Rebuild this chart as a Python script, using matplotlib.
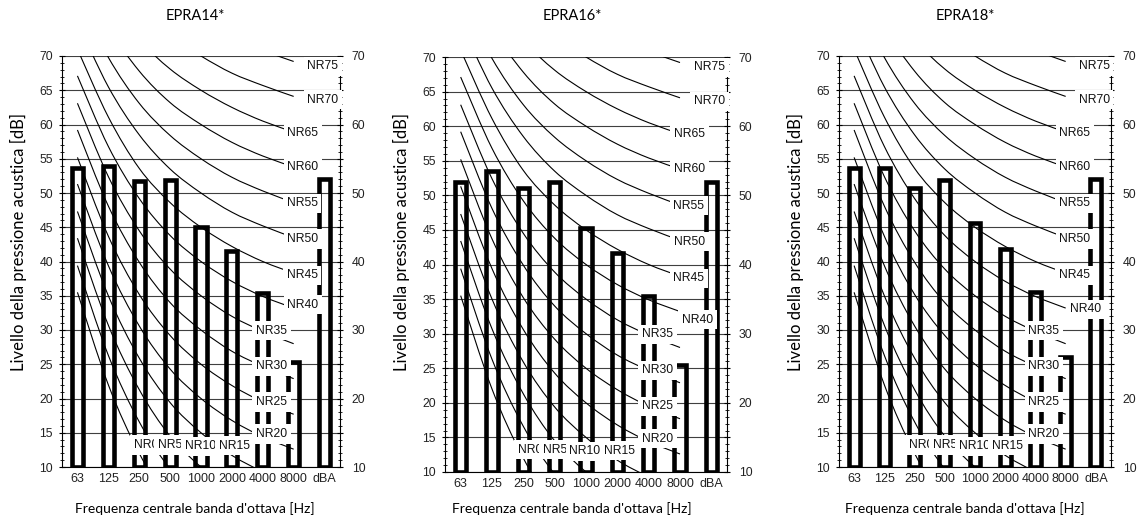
import numpy as np
import matplotlib
matplotlib.use('Agg')
import matplotlib.pyplot as plt
from matplotlib.path import Path
from matplotlib.patches import PathPatch
from matplotlib.ticker import MultipleLocator, FuncFormatter

plt.rcParams['font.family'] = ['Liberation Sans', 'DejaVu Sans']

# octave bands on the x axis
bands = ['63', '125', '250', '500', '1000', '2000', '4000', '8000', 'dBA']

# measured sound pressure levels [dB]
epra14 = [53.7, 54.0, 51.8, 51.9, 45.1, 41.5, 35.4, 25.4, 52.0]
epra16 = [51.9, 53.5, 51.1, 51.9, 45.3, 41.6, 35.5, 25.5, 52.0]
epra18 = [53.7, 53.6, 50.8, 51.9, 45.6, 41.8, 35.6, 26.1, 52.0]

titles = ['EPRA14*', 'EPRA16*', 'EPRA18*']

# NR curves, values at 63 ... 8000 Hz
nr_levels = [0, 5, 10, 15, 20, 25, 30, 35, 40, 45, 50, 55, 60, 65, 70, 75]
nr_table = [
    [35.5, 22.0, 12.0, 4.8, 0.0, -3.5, -6.1, -8.0],
    [39.4, 26.3, 16.6, 9.7, 5.0, 1.6, -1.0, -2.8],
    [43.4, 30.7, 21.3, 14.5, 10.0, 6.6, 4.2, 2.3],
    [47.3, 35.0, 25.9, 19.4, 15.0, 11.7, 9.3, 7.4],
    [51.3, 39.4, 30.6, 24.3, 20.0, 16.8, 14.4, 12.6],
    [55.2, 43.7, 35.2, 29.2, 25.0, 21.9, 19.5, 17.7],
    [59.2, 48.1, 39.9, 34.0, 30.0, 26.9, 24.7, 22.9],
    [63.1, 52.4, 44.5, 38.9, 35.0, 32.0, 29.8, 28.0],
    [67.1, 56.8, 49.2, 43.8, 40.0, 37.1, 34.9, 33.2],
    [71.0, 61.1, 53.6, 48.6, 45.0, 42.2, 40.0, 38.3],
    [75.0, 65.5, 58.5, 53.5, 50.0, 47.2, 45.2, 43.5],
    [78.9, 69.8, 63.1, 58.4, 55.0, 52.3, 50.3, 48.6],
    [82.9, 74.2, 67.8, 63.2, 60.0, 57.4, 55.4, 53.8],
    [86.8, 78.5, 72.4, 68.1, 65.0, 62.5, 60.5, 58.9],
    [90.8, 82.9, 77.1, 73.0, 70.0, 67.5, 65.7, 64.1],
    [94.7, 87.2, 81.7, 77.9, 75.0, 72.6, 70.8, 69.2],
]

# where the NR labels sit (x in category units, y in dB)
label_pos = {
    0: (2.22, 13.2), 5: (3.0, 13.2), 10: (3.97, 13.0), 15: (5.07, 13.1),
    20: (6.28, 14.8), 25: (6.28, 19.5), 30: (6.28, 24.7), 35: (6.28, 29.9),
    45: (7.28, 38.0), 50: (7.3, 43.3), 55: (7.28, 48.5), 60: (7.3, 53.8),
    65: (7.3, 58.8), 70: (7.94, 63.6), 75: (7.94, 68.5),
}
nr40_pos = [(7.3, 33.7), (7.56, 32.0), (7.65, 33.0)]

W, H = 1138, 521
# axes boxes in pixels: left, right, top, bottom
boxes = [(62, 340, 56, 467), (445, 727, 57, 472), (839, 1111, 56, 467)]
title_x = [195, 572, 965]
ylabel_x = [18, 401, 795]


def smooth_path(xs, ys):
    # Catmull-Rom like bezier through the points (like excel smoothed lines)
    pts = np.column_stack([xs, ys])
    ext = np.vstack([pts[0], pts, pts[-1]])
    verts = [pts[0]]
    codes = [Path.MOVETO]
    for i in range(len(pts) - 1):
        p0, p1, p2, p3 = ext[i], ext[i + 1], ext[i + 2], ext[i + 3]
        verts += [p1 + (p2 - p0) / 6, p2 - (p3 - p1) / 6, p2]
        codes += [Path.CURVE4] * 3
    return Path(verts, codes)


def drawing(fig, k, values):
    l, r, t, b = boxes[k]
    ax = fig.add_axes([l / W, 1 - b / H, (r - l) / W, (b - t) / H])
    x = np.arange(len(bands))

    for level, row in zip(nr_levels, nr_table):
        ax.add_patch(PathPatch(smooth_path(x[:8], row), fill=False,
                               ec='black', lw=0.8, zorder=3))

    ax.bar(x, np.array(values) - 10, bottom=10, width=0.36, fill=False,
           edgecolor='black', linewidth=3.3, zorder=4)

    ax.set_xlim(-0.5, 8.5)
    ax.set_ylim(10, 70)
    ax.set_xticks(x)
    ax.set_xticklabels(bands)
    ax.yaxis.set_major_locator(MultipleLocator(5))
    ax.yaxis.set_minor_locator(MultipleLocator(1))
    ax.grid(axis='y', color='#404040', lw=0.8, zorder=1)
    ax.set_axisbelow(True)
    ax.tick_params(axis='x', length=0, pad=4, labelsize=9, colors='#222222')
    ax.tick_params(axis='y', which='major', direction='inout', length=5,
                   width=0.8, pad=4, labelsize=8.8, labelcolor='#222222')
    ax.tick_params(axis='y', which='minor', direction='inout', length=3,
                   width=0.6)
    for s in ['top', 'right']:
        ax.spines[s].set_visible(False)
    ax.spines['left'].set_linewidth(0.8)
    ax.spines['bottom'].set_linewidth(0.8)

    ax2 = ax.twinx()
    ax2.set_ylim(10, 70)
    ax2.yaxis.set_major_locator(MultipleLocator(5))
    ax2.yaxis.set_minor_locator(MultipleLocator(1))
    ax2.yaxis.set_major_formatter(
        FuncFormatter(lambda v, p: '%d' % v if v % 10 == 0 else ''))
    ax2.tick_params(axis='y', which='major', direction='inout', length=5,
                    width=0.8, pad=6, labelsize=8.8, labelcolor='#222222')
    ax2.tick_params(axis='y', which='minor', direction='inout', length=3,
                    width=0.6)
    for s in ['top', 'left', 'bottom']:
        ax2.spines[s].set_visible(False)
    ax2.spines['right'].set_linewidth(0.8)

    for level in nr_levels:
        px, py = nr40_pos[k] if level == 40 else label_pos[level]
        ax2.text(px, py, 'NR%d' % level, fontsize=8.7, ha='center',
                 va='center', zorder=6, color='#111111',
                 bbox=dict(boxstyle='square,pad=0.3', fc='white', ec='none'))

    fig.text(title_x[k] / W, 1 - 16 / H, titles[k], family='Lato',
             fontsize=10.5, ha='center', va='center')
    fig.text(title_x[k] / W, 1 - 509 / H,
             "Frequenza centrale banda d'ottava [Hz]", family='Lato',
             fontsize=10, ha='center', va='center')
    fig.text(ylabel_x[k] / W, 1 - 242 / H,
             'Livello della pressione acustica [dB]', family='Lato',
             fontsize=12, ha='center', va='center', rotation=90)


if __name__ == '__main__':
    fig = plt.figure(figsize=(W / 100, H / 100), dpi=100)
    for k, vals in enumerate([epra14, epra16, epra18]):
        drawing(fig, k, vals)
    plt.savefig('out.png', dpi=100)
